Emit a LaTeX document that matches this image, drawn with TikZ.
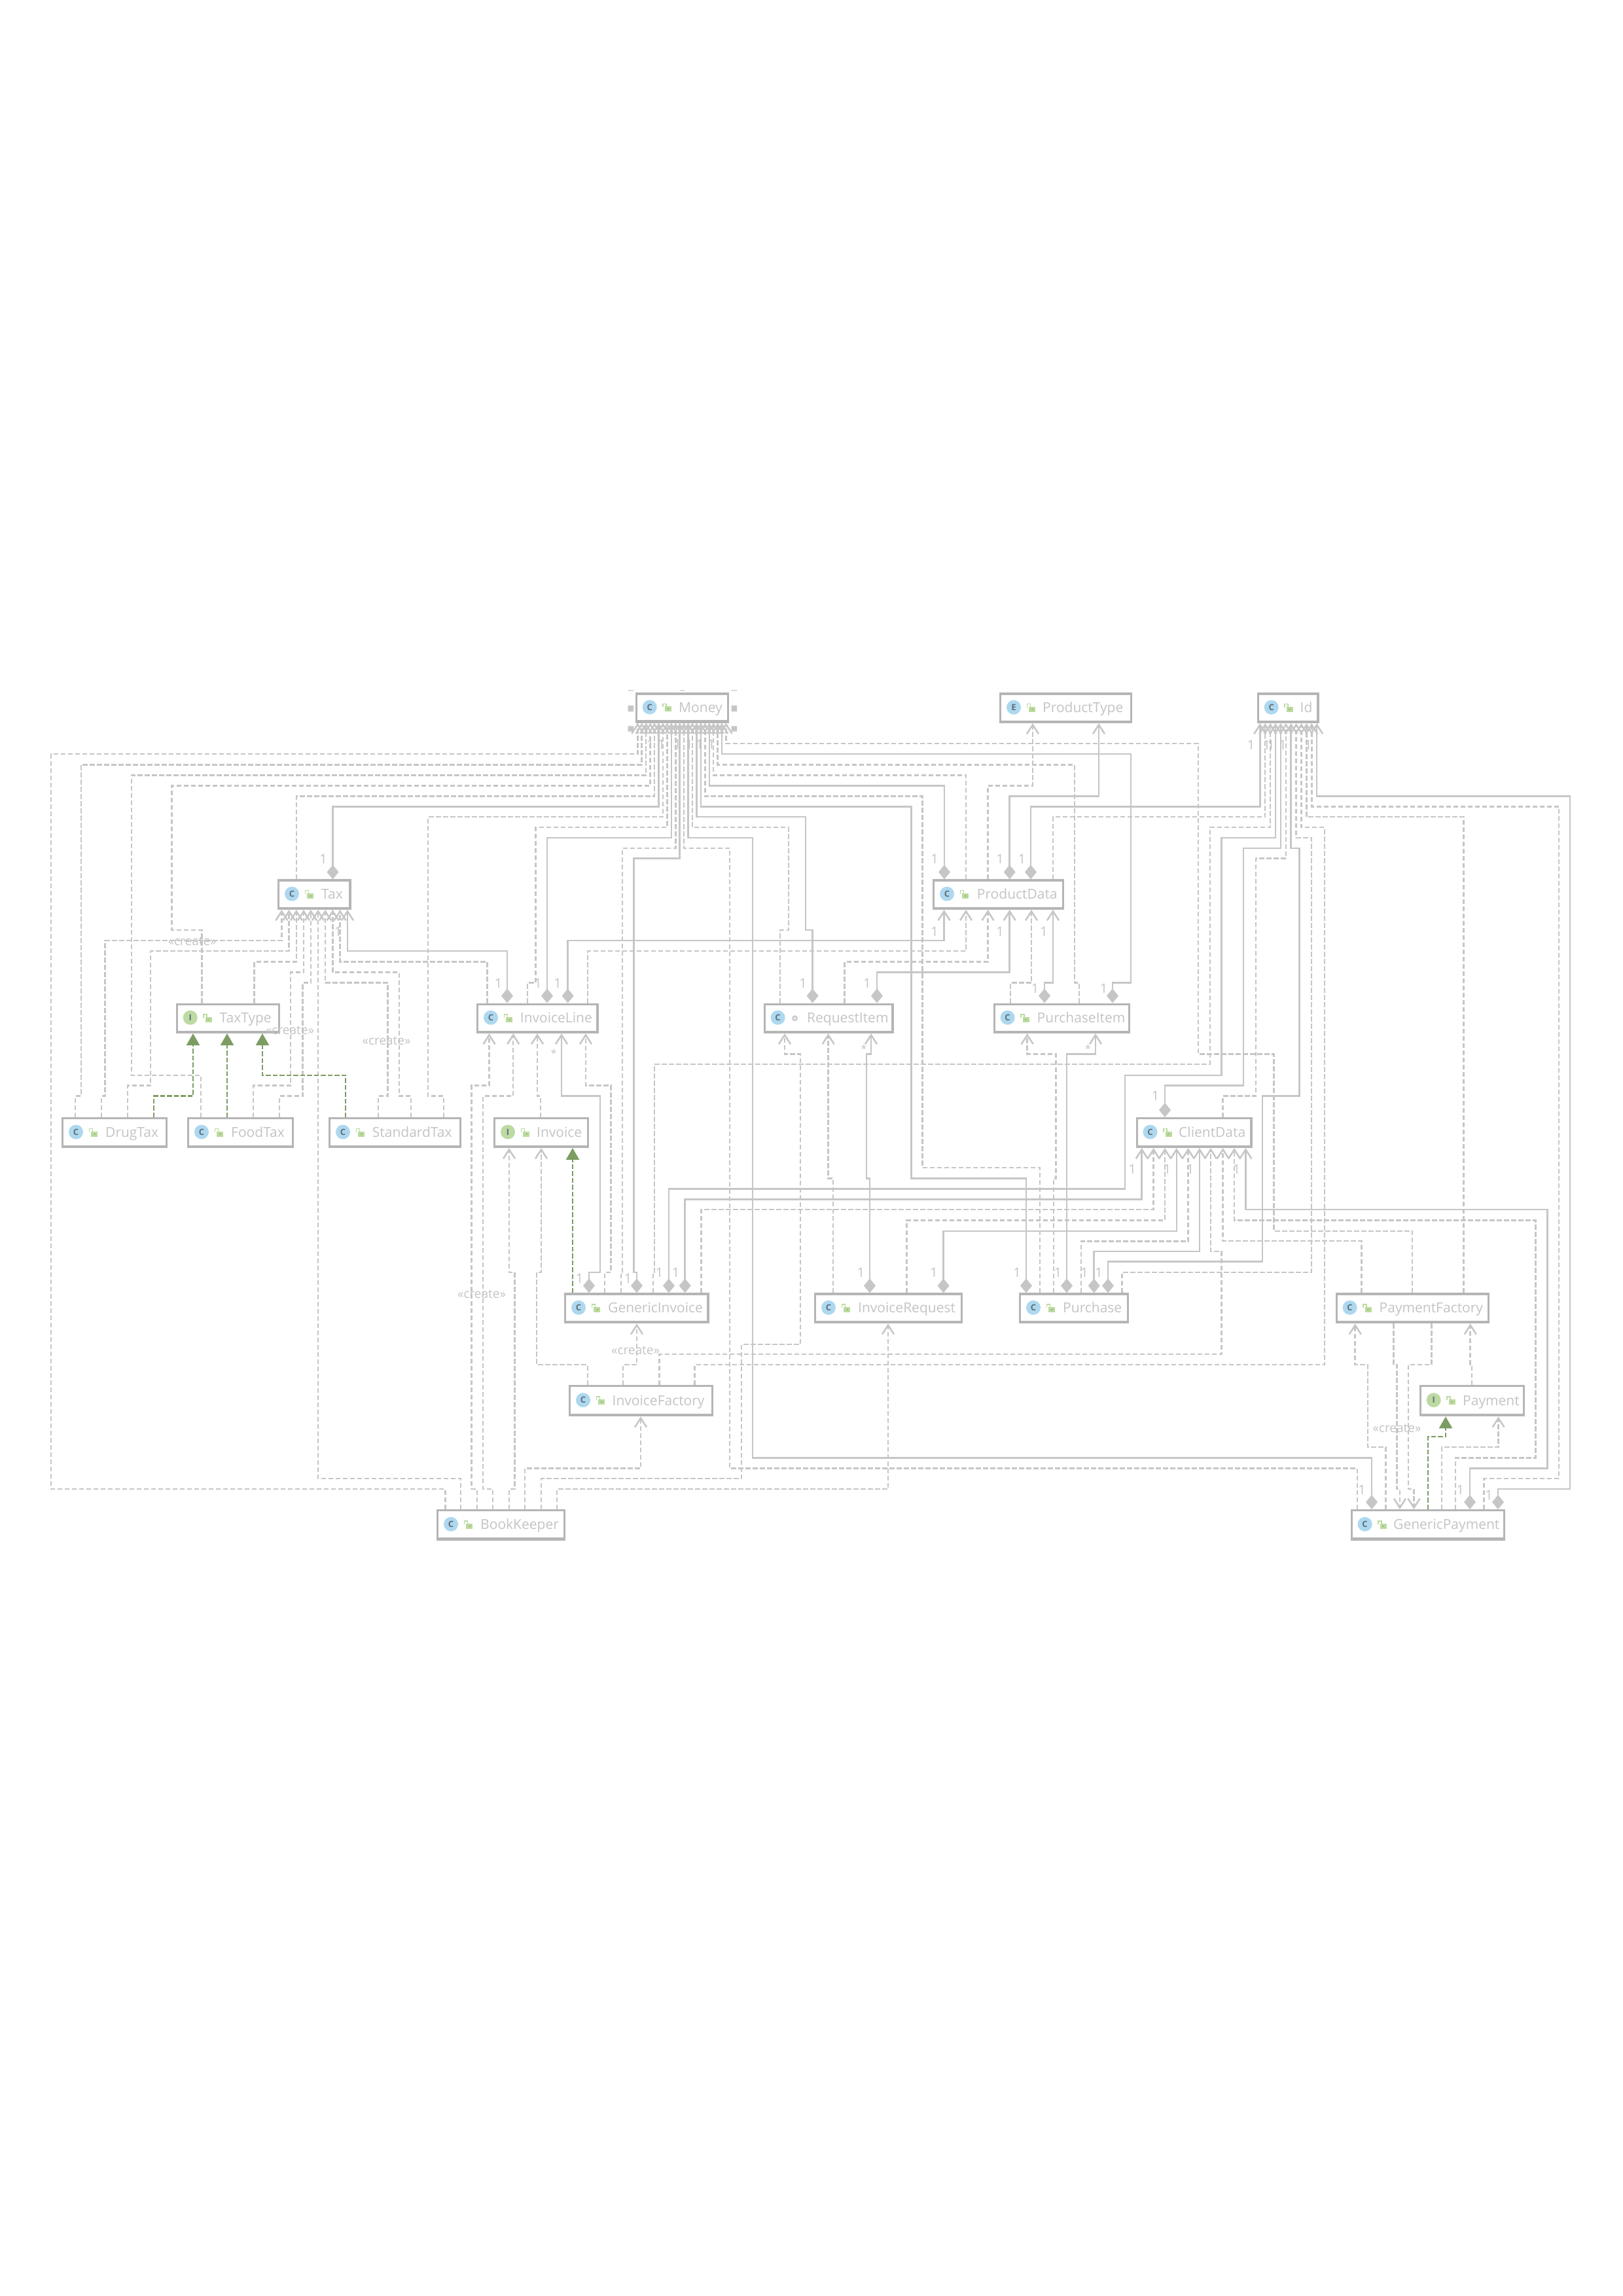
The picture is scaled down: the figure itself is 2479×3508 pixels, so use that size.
\documentclass[tikz,border=0pt]{standalone}
\usepackage{fontspec}
\setmainfont{Open Sans}
\usetikzlibrary{arrows.meta}
\definecolor{bc}{HTML}{B5B5B5}
\definecolor{lc}{HTML}{C6C6C6}
\definecolor{tc}{HTML}{C4C4C4}
\definecolor{gc}{HTML}{7D9C62}
\definecolor{bluec}{HTML}{ADD8EF}
\definecolor{igc}{HTML}{BCDAA2}
\definecolor{lockc}{HTML}{BBDB9E}
\definecolor{letc}{HTML}{5F6E78}
\tikzset{
 x=1pt,y=-1pt,
 lw/.style={line width=2.5pt,draw=lc},
 barb/.tip={Straight Barb[length=14pt,width=18pt,line width=2.5pt,color=lc]},
 dia/.tip={Diamond[length=22pt,width=18pt,color=lc,fill=lc]},
 dep/.style={lw,dash pattern=on 7.5pt off 3.5pt,-{barb}},
 comp/.style={lw,{dia}-{barb}},
 real/.style={line width=2.5pt,draw=gc,dash pattern=on 7.5pt off 3pt,-{Triangle[length=18pt,width=20pt,color=gc,fill=gc]}},
 clsbox/.style={draw=bc,fill=white,line width=3.2pt,inner sep=0pt},
 clstext/.style={text=tc,font=\fontsize{21}{21}\selectfont,anchor=base west,inner sep=0pt},
 iconc/.style={circle,minimum size=22pt,inner sep=0pt,text=letc,font=\fontsize{13}{13}\selectfont\bfseries},
 lbl/.style={text=tc,font=\fontsize{20}{20}\selectfont,inner sep=0pt},
 lblc/.style={text=tc,font=\fontsize{19}{19}\selectfont,inner sep=0pt},
 lbls/.style={text=tc,font=\fontsize{16}{16}\selectfont,inner sep=0pt},
}
\newcounter{labc}
\newcommand\lab[4][lbl]{\stepcounter{labc}\node[#1] (lab\thelabc) at (#2,#3) {#4};}
\newcommand\cls[9]{%
 \node[clsbox,minimum width={#4-#2-3.2},minimum height={#5-#3-3.2},anchor=north west] (#1) at (#2,#3) {};
 \fill[bc] (#1.south west) rectangle ([yshift=4.5pt]#1.south east);
 \node[iconc,fill=#9] (#1-i) at ([xshift=22pt,yshift=1pt]#1.west) {#8};
 \node[clstext] (#1-t) at ([yshift=-7pt]#6,0 |- #1.center) {#7};
}
\newcommand\lockat[1]{%
 \fill[lockc] ([xshift=45pt,yshift=2pt]#1.west) rectangle ([xshift=55pt,yshift=-6pt]#1.west);
 \fill[gc!70!white] ([xshift=48.5pt,yshift=-1pt]#1.west) rectangle ([xshift=51.5pt,yshift=-3pt]#1.west);
 \draw[lockc,line width=1.5pt] ([xshift=42.5pt,yshift=1pt]#1.west) -- ([xshift=42.5pt,yshift=6pt]#1.west) -- ([xshift=47.5pt,yshift=6pt]#1.west) -- ([xshift=47.5pt,yshift=2pt]#1.west);
}
\newcommand\dotat[1]{%
 \fill[bc!70!white] ([xshift=48pt]#1.west) circle[radius=4.5pt];
 \fill[white] ([xshift=48pt]#1.west) circle[radius=1.8pt];
}
\begin{document}
\begin{tikzpicture}
\path[fill=white] (0,0) rectangle (2479,3508);
\useasboundingbox (0,0) rectangle (2479,3508);
% classes
\cls{Money}{970.7}{1058.4}{1114}{1104.5}{1037}{Money}{C}{bluec}
\cls{ProductType}{1527}{1058.4}{1730}{1105}{1593}{ProductType}{E}{bluec}
\cls{Id}{1920.7}{1058.4}{2015.6}{1105}{1986.5}{Id}{C}{bluec}
\cls{Tax}{424}{1343.4}{536.5}{1390}{491}{Tax}{C}{bluec}
\cls{ProductData}{1425}{1343.4}{1626}{1390}{1492.7}{ProductData}{C}{bluec}
\cls{TaxType}{268.7}{1532.5}{428}{1579}{335.5}{TaxType}{I}{igc}
\cls{InvoiceLine}{728}{1532.5}{914.6}{1579}{794.7}{InvoiceLine}{C}{bluec}
\cls{RequestItem}{1166.6}{1532.5}{1365.6}{1579}{1233}{RequestItem}{C}{bluec}
\cls{PurchaseItem}{1517.6}{1532.5}{1727}{1579}{1584.5}{PurchaseItem}{C}{bluec}
\cls{DrugTax}{94}{1707}{256}{1754}{161}{DrugTax}{C}{bluec}
\cls{FoodTax}{286}{1707}{449}{1754}{353}{FoodTax}{C}{bluec}
\cls{StandardTax}{502}{1707}{705}{1754}{568.7}{StandardTax}{C}{bluec}
\cls{Invoice}{754}{1707}{900}{1754}{820}{Invoice}{I}{igc}
\cls{ClientData}{1735.5}{1707}{1913.6}{1754}{1801}{ClientData}{C}{bluec}
\cls{GenericInvoice}{862}{1975.4}{1083.5}{2022.3}{929}{GenericInvoice}{C}{bluec}
\cls{InvoiceRequest}{1244}{1975.4}{1470.7}{2022.3}{1311}{InvoiceRequest}{C}{bluec}
\cls{Purchase}{1557}{1975.4}{1725}{2022.3}{1624}{Purchase}{C}{bluec}
\cls{PaymentFactory}{2040.6}{1975.4}{2276}{2022.3}{2107.5}{PaymentFactory}{C}{bluec}
\cls{InvoiceFactory}{869}{2116}{1090}{2164.3}{935.5}{InvoiceFactory}{C}{bluec}
\cls{Payment}{2168.7}{2116}{2330.4}{2164.3}{2235}{Payment}{I}{igc}
\cls{BookKeeper}{667}{2306}{864}{2353.5}{734}{BookKeeper}{C}{bluec}
\cls{GenericPayment}{2063.6}{2306}{2300}{2353.5}{2129}{GenericPayment}{C}{bluec}
\foreach \n in {Money,ProductType,Id,Tax,ProductData,TaxType,InvoiceLine,PurchaseItem,DrugTax,FoodTax,StandardTax,Invoice,ClientData,GenericInvoice,InvoiceRequest,Purchase,PaymentFactory,InvoiceFactory,Payment,BookKeeper,GenericPayment}{\lockat{\n}}
\dotat{RequestItem}
% Money selection handles
\fill[lc] (959.5,1077.8) rectangle (968,1087) (1117.6,1077.8) rectangle (1126,1087)
 (959.5,1109.3) rectangle (968,1117.6) (1117.6,1109.3) rectangle (1126,1117.6)
 (959.5,1054.3) rectangle (968,1055.6) (1038.6,1054.3) rectangle (1046,1055.6) (1117.6,1054.3) rectangle (1126,1055.6);
% -> Money
\draw[dep] (680.4,0 |- BookKeeper.north) |- (78,2275) |- (974.3,1152) -- (974.3,0 |- Money.south);
\draw[dep] (115,0 |- DrugTax.north) |- (123.8,1674.6) |- (980.7,1168.3) -- (980.7,0 |- Money.south);
\draw[dep] (307,0 |- FoodTax.north) |- (200.8,1643) |- (987.2,1184.4) -- (987.2,0 |- Money.south);
\draw[dep] (308.5,0 |- TaxType.north) |- (262.6,1421) |- (993.6,1200.6) -- (993.6,0 |- Money.south);
\draw[dep] (452.9,0 |- Tax.north) |- (1000,1216.7) -- (1000,0 |- Money.south);
\draw[comp] (508.5,0 |- Tax.north) |- (1006.5,1232.4) -- (1006.5,0 |- Money.south);
\draw[dep] (678,0 |- StandardTax.north) |- (654,1674.6) |- (1013,1248) -- (1013,0 |- Money.south);
\draw[dep] (806,0 |- InvoiceLine.north) |- (818.7,1501.7) |- (1019.4,1264.2) -- (1019.4,0 |- Money.south);
\draw[comp] (836,0 |- InvoiceLine.north) |- (1025.8,1279.9) -- (1025.8,0 |- Money.south);
\draw[dep] (949,0 |- GenericInvoice.north) |- (950.8,1944) |- (1032.3,1296) -- (1032.3,0 |- Money.south);
\draw[comp] (973,0 |- GenericInvoice.north) |- (968.7,1944) |- (1038.7,1311.7) -- (1038.7,0 |- Money.south);
\draw[dep] (2074,0 |- GenericPayment.north) |- (1115,2243.4) |- (1045.1,1296) -- (1045.1,0 |- Money.south);
\draw[comp] (2096,0 |- GenericPayment.north) |- (1150,2227.3) |- (1051.6,1279.9) -- (1051.6,0 |- Money.south);
\draw[dep] (1192,0 |- RequestItem.north) |- (1205,1421) |- (1058,1264.2) -- (1058,0 |- Money.south);
\draw[comp] (1241.6,0 |- RequestItem.north) |- (1231,1421) |- (1064.5,1248) -- (1064.5,0 |- Money.south);
\draw[comp] (1568,0 |- Purchase.north) |- (1392.6,1800.6) |- (1070.9,1232.4) -- (1070.9,0 |- Money.south);
\draw[dep] (1589,0 |- Purchase.north) |- (1409.5,1784) |- (1077.3,1216.7) -- (1077.3,0 |- Money.south);
\draw[comp] (1443,0 |- ProductData.north) |- (1083.8,1200.6) -- (1083.8,0 |- Money.south);
\draw[dep] (1476,0 |- ProductData.north) |- (1090.2,1184.4) -- (1090.2,0 |- Money.south);
\draw[dep] (1649,0 |- PurchaseItem.north) |- (1642,1501.7) |- (1096.7,1168.3) -- (1096.7,0 |- Money.south);
\draw[comp] (1700,0 |- PurchaseItem.north) |- (1728,1501.7) |- (1103.1,1152) -- (1103.1,0 |- Money.south);
\draw[dep] (2158,0 |- PaymentFactory.north) |- (1946.7,1880.8) |- (1831,1610.5) |- (1109.5,1136) -- (1109.5,0 |- Money.south);
% -> Id
\draw[comp] (1575,0 |- ProductData.north) |- (1925.3,1232.4) -- (1925.3,0 |- Id.south);
\draw[dep] (1609,0 |- ProductData.north) |- (1933.2,1248) -- (1933.2,0 |- Id.south);
\draw[dep] (997.8,0 |- GenericInvoice.north) |- (1000,1944) |- (1848.8,1626) |- (1941.1,1264.2) -- (1941.1,0 |- Id.south);
\draw[comp] (1022,0 |- GenericInvoice.north) |- (1719,1816.4) |- (1866.6,1643) |- (1949,1279.9) -- (1949,0 |- Id.south);
\draw[comp] (1780,0 |- ClientData.north) |- (1900,1658.5) |- (1956.9,1296) -- (1956.9,0 |- Id.south);
\draw[dep] (1868.7,0 |- ClientData.north) |- (1919,1674.6) |- (1964.8,1311.7) -- (1964.8,0 |- Id.south);
\draw[comp] (1693,0 |- Purchase.north) |- (1929,1927.5) |- (1985.5,1674.6) |- (1972.7,1296) -- (1972.7,0 |- Id.south);
\draw[dep] (1714.6,0 |- Purchase.north) |- (2004,1944) |- (1980.6,1279.9) -- (1980.6,0 |- Id.south);
\draw[dep] (1061.5,0 |- InvoiceFactory.north) |- (2024,2085) |- (1988.5,1264.2) -- (1988.5,0 |- Id.south);
\draw[dep] (2236.5,0 |- PaymentFactory.north) |- (1996.4,1248) -- (1996.4,0 |- Id.south);
\draw[dep] (2267.6,0 |- GenericPayment.north) |- (2382,2259) |- (2004.3,1232.4) -- (2004.3,0 |- Id.south);
\draw[comp] (2289,0 |- GenericPayment.north) |- (2399,2275) |- (2012.2,1216.7) -- (2012.2,0 |- Id.south);
% -> ProductType
\draw[dep] (1509.5,0 |- ProductData.north) |- (1578,1200.6) -- (1578,0 |- ProductType.south);
\draw[comp] (1542.7,0 |- ProductData.north) |- (1679,1216.7) -- (1679,0 |- ProductType.south);
% -> ProductData
\draw[comp] (867.6,0 |- InvoiceLine.north) |- (1442.6,1437) -- (1442.6,0 |- ProductData.south);
\draw[dep] (898,0 |- InvoiceLine.north) |- (1476,1453) -- (1476,0 |- ProductData.south);
\draw[dep] (1290.6,0 |- RequestItem.north) |- (1509.5,1469.4) -- (1509.5,0 |- ProductData.south);
\draw[comp] (1340,0 |- RequestItem.north) |- (1542.7,1485.6) -- (1542.7,0 |- ProductData.south);
\draw[dep] (1544,0 |- PurchaseItem.north) |- (1576,1501.7) -- (1576,0 |- ProductData.south);
\draw[comp] (1596,0 |- PurchaseItem.north) |- (1609,1501.7) -- (1609,0 |- ProductData.south);
% -> Tax
\draw[dep] (155,0 |- DrugTax.north) |- (160.5,1674.6) |- (430.4,1437) -- (430.4,0 |- Tax.south);
\draw[dep] (195,0 |- DrugTax.north) |- (230,1658.5) |- (441.6,1453) -- (441.6,0 |- Tax.south);
\draw[dep] (388.6,0 |- TaxType.north) |- (452.9,1469.4) -- (452.9,0 |- Tax.south);
\draw[dep] (387,0 |- FoodTax.north) |- (444,1658.5) |- (464,1485.6) -- (464,0 |- Tax.south);
\draw[dep] (427,0 |- FoodTax.north) |- (462.6,1674.6) |- (475,1501.7) -- (475,0 |- Tax.south);
\draw[dep] (704,0 |- BookKeeper.north) |- (486,2259) -- (486,0 |- Tax.south);
\draw[dep] (578,0 |- StandardTax.north) |- (592.6,1674.6) |- (497,1501.7) -- (497,0 |- Tax.south);
\draw[dep] (628,0 |- StandardTax.north) |- (610,1674.6) |- (508.5,1485.6) -- (508.5,0 |- Tax.south);
\draw[dep] (744.7,0 |- InvoiceLine.north) |- (519.7,1469.4) -- (519.7,0 |- Tax.south);
\draw[comp] (775,0 |- InvoiceLine.north) |- (531,1453) -- (531,0 |- Tax.south);
% realizations
\draw[real] (235,0 |- DrugTax.north) |- (295,1674.6) -- (295,0 |- TaxType.south);
\draw[real] (347,0 |- FoodTax.north) -- (347,0 |- TaxType.south);
\draw[real] (528,0 |- StandardTax.north) |- (401,1643) -- (401,0 |- TaxType.south);
\draw[real] (875,0 |- GenericInvoice.north) -- (875,0 |- Invoice.south);
\draw[real] (2182,0 |- GenericPayment.north) |- (2209,2195) -- (2209,0 |- Payment.south);
% -> InvoiceLine
\draw[dep] (729,0 |- BookKeeper.north) |- (720.7,2275) |- (747.5,1658.5) -- (747.5,0 |- InvoiceLine.south);
\draw[dep] (753,0 |- BookKeeper.north) |- (738,2275) |- (784.2,1674.6) -- (784.2,0 |- InvoiceLine.south);
\draw[dep] (826,0 |- Invoice.north) |- (821,1674.6) -- (821,0 |- InvoiceLine.south);
\draw[comp] (900,0 |- GenericInvoice.north) |- (917,1944) |- (858,1674.6) -- (858,0 |- InvoiceLine.south);
\draw[dep] (924,0 |- GenericInvoice.north) |- (933.5,1944) |- (895,1658.5) -- (895,0 |- InvoiceLine.south);
% -> Invoice
\draw[dep] (778,0 |- BookKeeper.north) |- (786.5,2275) |- (778,1943.8) -- (778,0 |- Invoice.south);
\draw[dep] (897.8,0 |- InvoiceFactory.north) |- (820,2085) |- (827,1943.8) -- (827,0 |- Invoice.south);
% others from BookKeeper
\draw[dep] (802,0 |- BookKeeper.north) |- (979,2243.4) -- (979,0 |- InvoiceFactory.south);
\draw[dep] (827,0 |- BookKeeper.north) |- (1133,2259) |- (1223,2054) |- (1199,1610.5) -- (1199,0 |- RequestItem.south);
\draw[dep] (851,0 |- BookKeeper.north) |- (1357,2275) -- (1357,0 |- InvoiceRequest.south);
% -> RequestItem
\draw[dep] (1272.8,0 |- InvoiceRequest.north) |- (1265.6,1800.6) -- (1265.6,0 |- RequestItem.south);
\draw[comp] (1329,0 |- InvoiceRequest.north) |- (1324,1800.6) |- (1331,1610.5) -- (1331,0 |- RequestItem.south);
% -> PurchaseItem
\draw[dep] (1610,0 |- Purchase.north) |- (1613.6,1800.6) |- (1569.7,1610.5) -- (1569.7,0 |- PurchaseItem.south);
\draw[comp] (1630,0 |- Purchase.north) |- (1674,1610.5) -- (1674,0 |- PurchaseItem.south);
% -> ClientData
\draw[comp] (1046.7,0 |- GenericInvoice.north) |- (1744.7,1832.6) -- (1744.7,0 |- ClientData.south);
\draw[dep] (1071.7,0 |- GenericInvoice.north) |- (1762.6,1847.9) -- (1762.6,0 |- ClientData.south);
\draw[dep] (1385.5,0 |- InvoiceRequest.north) |- (1780,1864.5) -- (1780,0 |- ClientData.south);
\draw[comp] (1441.6,0 |- InvoiceRequest.north) |- (1797.8,1881) -- (1797.8,0 |- ClientData.south);
\draw[dep] (1652,0 |- Purchase.north) |- (1815.6,1896.4) -- (1815.6,0 |- ClientData.south);
\draw[comp] (1671.7,0 |- Purchase.north) |- (1833,1911.8) -- (1833,0 |- ClientData.south);
\draw[dep] (1007.5,0 |- InvoiceFactory.north) |- (1866.6,2069) |- (1850,1911.8) -- (1850,0 |- ClientData.south);
\draw[dep] (2080.4,0 |- PaymentFactory.north) |- (1868.7,1896) -- (1868.7,0 |- ClientData.south);
\draw[dep] (2224,0 |- GenericPayment.north) |- (2346.7,2227.3) |- (1886,1864.5) -- (1886,0 |- ClientData.south);
\draw[comp] (2246,0 |- GenericPayment.north) |- (2364.6,2243.4) |- (1903.4,1847.9) -- (1903.4,0 |- ClientData.south);
% -> GenericInvoice
\draw[dep] (952,0 |- InvoiceFactory.north) |- (973,2085) -- (973,0 |- GenericInvoice.south);
% PaymentFactory / Payment / GenericPayment
\draw[dep] (2117.7,0 |- GenericPayment.north) |- (2090,2211) |- (2070.7,2085) -- (2070.7,0 |- PaymentFactory.south);
\draw[dep] (2129.4,0 |- PaymentFactory.south) |- (2134.5,2085) |- (2139,2275) -- (2139,0 |- GenericPayment.north);
\draw[dep] (2187.6,0 |- PaymentFactory.south) |- (2152,2085) |- (2160.5,2275) -- (2160.5,0 |- GenericPayment.north);
\draw[dep] (2249,0 |- Payment.north) |- (2246.7,2085) -- (2246.7,0 |- PaymentFactory.south);
\draw[dep] (2203,0 |- GenericPayment.north) |- (2289.6,2211) -- (2289.6,0 |- Payment.south);
% multiplicity labels
\foreach \x/\y in {494/1312.6,516.6/1423,761.5/1502,822/1502,852/1502,885.5/1953.8,959.5/1953.8,1007.5/1944,1032.5/1944,
 993.7/1137,1010.5/1137,1035/1137,1053/1137,1069/1137,1087/1137,
 1428/1312.6,1528/1312.6,1561.5/1312.6,1428/1423.4,1528/1423.4,1595/1423.4,1227/1502,1325/1502,1581.5/1510,1686.5/1510,
 1911.5/1138,1935.5/1138,1942/1138,1960/1138,1999/1138,
 1765.6/1674.6,1730.4/1786,1783.5/1786,1818.7/1786,1889.6/1786,
 1315.6/1944,1427/1944,1554/1944,1616.6/1944,1657/1944,1679/1944.7,
 2081/2276,2231.4/2276,2275/2284}{\lab{\x}{\y}{1}}
\lab[lbls]{846}{1609}{*}
\lab[lbls]{1320}{1602}{*}
\lab[lbls]{1662.5}{1602}{*}
\lab[lblc]{293.7}{1438}{«create»}
\lab[lblc]{443}{1574}{«create»}
\lab[lblc]{590.6}{1590}{«create»}
\lab[lblc]{736}{1977}{«create»}
\lab[lblc]{971}{2063}{«create»}
\lab[lblc]{2134.5}{2182}{«create»}
\end{tikzpicture}
\end{document}
